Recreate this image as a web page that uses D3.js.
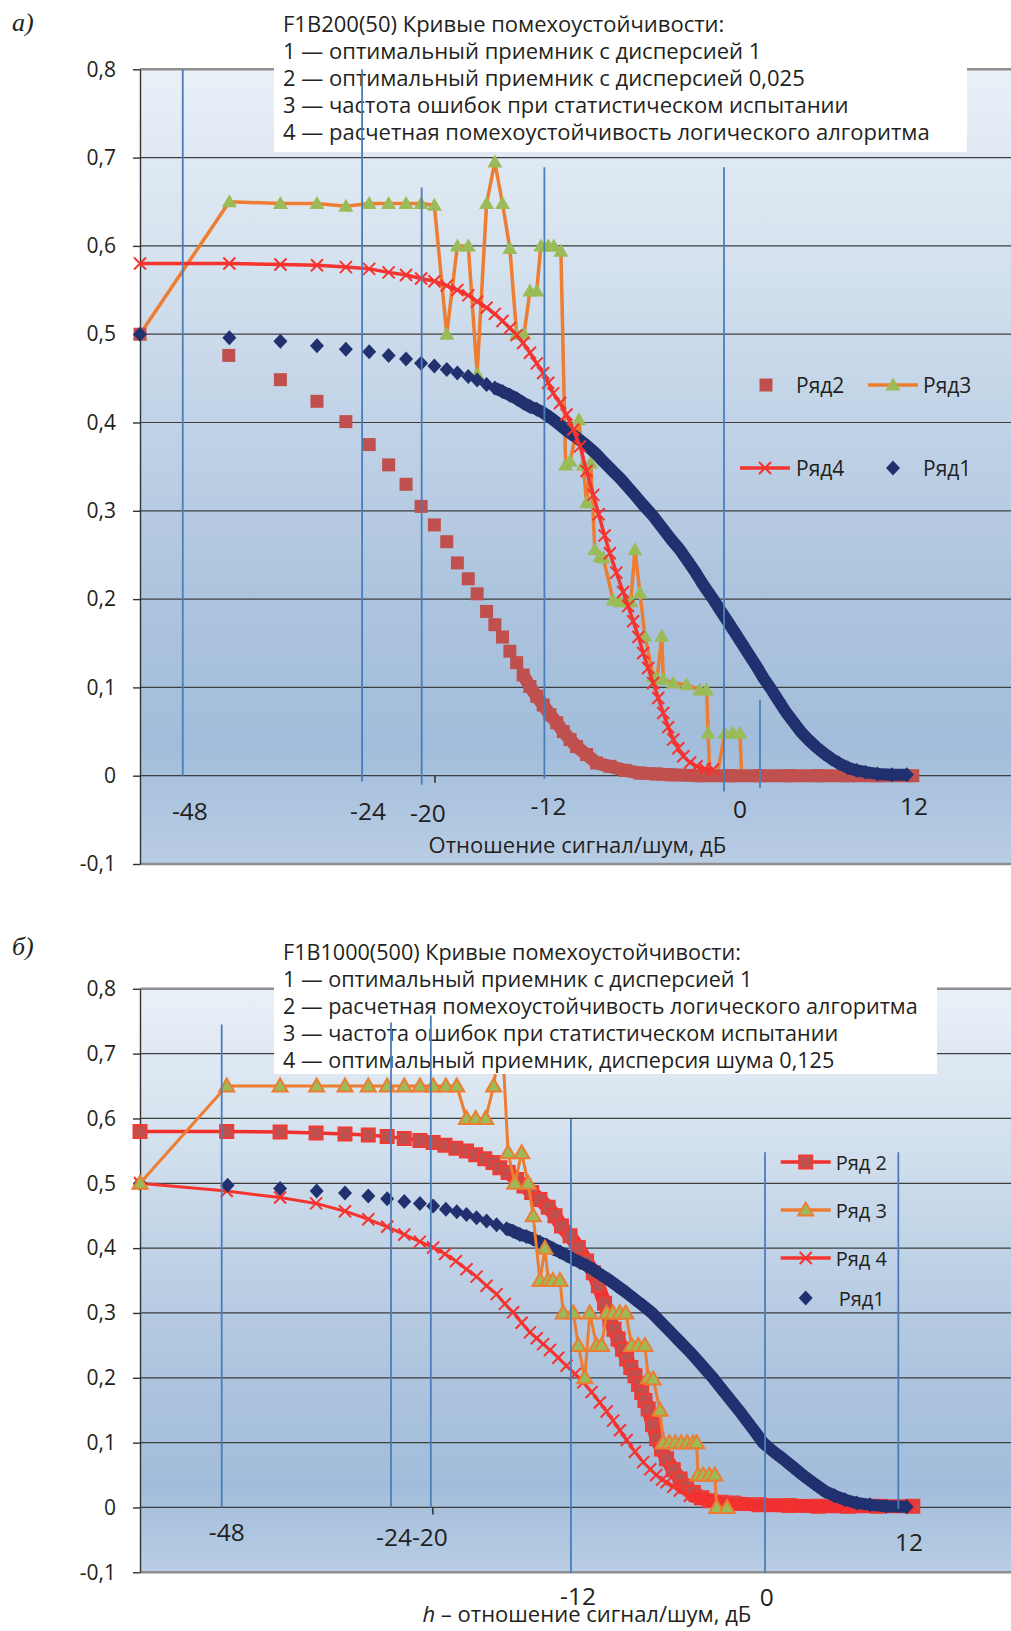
<!DOCTYPE html>
<html>
<head>
<meta charset="utf-8">
<script src="https://cdn.jsdelivr.net/npm/d3@7"></script>
<style>
body { margin: 0; background: #fff; }
svg { display: block; font-family: "Open Sans", sans-serif; }
</style>
</head>
<body>
<svg id="chart" width="1011" height="1631"></svg>
<script>
/* x: relative signal/noise position in dB (first sample = 0), y: error probability */
let y_ticks = [0.8, 0.7, 0.6, 0.5, 0.4, 0.3, 0.2, 0.1, 0, -0.1];

/* ---------- panel a) F1B200(50) ---------- */
let a_title = [
    "F1B200(50) Кривые помехоустойчивости:",
    "1 — оптимальный приемник с дисперсией 1",
    "2 — оптимальный приемник с дисперсией 0,025",
    "3 — частота ошибок при статистическом испытании",
    "4 — расчетная помехоустойчивость логического алгоритма"
];
let a_row1 = [[0,0.500],[3.03,0.496],[4.76,0.492],[6.00,0.487],[6.98,0.483],[7.77,0.480],[8.43,0.476],[9.02,0.472],[9.53,0.467],[9.98,0.464],[10.40,0.460],[10.76,0.456],[11.13,0.452],[11.43,0.448],[11.75,0.443],[12.03,0.439],[12.29,0.435],[12.54,0.431],[12.77,0.427],[13.00,0.422],[13.22,0.418],[13.45,0.415],[13.67,0.411],[13.90,0.406],[14.13,0.400],[14.35,0.394],[14.58,0.388],[14.80,0.383],[15.03,0.377],[15.25,0.371],[15.48,0.364],[15.70,0.356],[16.00,0.346],[16.30,0.336],[16.72,0.320],[17.05,0.307],[17.40,0.294],[17.70,0.281],[18.00,0.268],[18.30,0.256],[18.53,0.245],[18.80,0.232],[19.10,0.216],[19.43,0.200],[19.70,0.186],[19.90,0.176],[20.15,0.163],[20.40,0.150],[20.65,0.137],[20.90,0.124],[21.15,0.110],[21.40,0.098],[21.65,0.085],[21.90,0.072],[22.15,0.061],[22.40,0.050],[22.65,0.041],[22.94,0.032],[23.20,0.025],[23.45,0.019],[23.70,0.014],[24.00,0.009],[24.30,0.006],[24.60,0.004],[25.00,0.002],[25.50,0.001],[26.00,0.001]];
let a_row2 = [[0,0.500],[3.01,0.476],[4.76,0.4485],[6.00,0.424],[6.98,0.401],[7.77,0.375],[8.43,0.352],[9.02,0.330],[9.53,0.305],[9.98,0.284],[10.40,0.265],[10.76,0.241],[11.13,0.223],[11.43,0.206],[11.75,0.186],[12.03,0.171],[12.29,0.157],[12.54,0.141],[12.77,0.128],[12.99,0.114],[13.22,0.101],[13.45,0.090],[13.67,0.080],[13.90,0.069],[14.13,0.060],[14.35,0.050],[14.58,0.041],[14.80,0.033],[15.14,0.024],[15.48,0.0144],[15.93,0.0106],[16.45,0.006],[16.95,0.003],[17.5,0.002],[18.0,0.001],[19.0,0],[20.0,0],[21.0,0],[22.0,0],[23.0,0],[24.0,0],[25.0,0],[26.2,0]];
let a_row3 = [[0,0.500],[3.03,0.650],[4.76,0.648],[6.00,0.648],[6.98,0.645],[7.77,0.648],[8.43,0.648],[9.02,0.648],[9.53,0.648],[9.98,0.646],[10.40,0.500],[10.76,0.600],[11.13,0.600],[11.43,0.455],[11.75,0.648],[12.03,0.695],[12.29,0.648],[12.54,0.597],[12.77,0.500],[13.02,0.500],[13.22,0.549],[13.45,0.549],[13.59,0.600],[13.84,0.600],[14.03,0.600],[14.27,0.594],[14.43,0.352],[14.58,0.356],[14.88,0.403],[15.03,0.352],[15.14,0.309],[15.28,0.354],[15.42,0.256],[15.59,0.248],[15.71,0.2465],[16.04,0.199],[16.27,0.197],[16.50,0.197],[16.64,0.197],[16.78,0.256],[16.95,0.207],[17.12,0.158],[17.40,0.1125],[17.53,0.110],[17.69,0.158],[17.74,0.109],[18.08,0.105],[18.53,0.103],[18.98,0.097],[19.21,0.097],[19.26,0.048],[19.32,0],[19.56,0],[19.83,0.048],[20.10,0.048],[20.34,0.048],[20.40,0]];
let a_row4 = [[0,0.580],[3.03,0.580],[4.76,0.579],[6.00,0.578],[6.98,0.576],[7.77,0.574],[8.43,0.570],[9.02,0.567],[9.53,0.563],[9.98,0.560],[10.40,0.555],[10.76,0.550],[11.13,0.544],[11.43,0.537],[11.75,0.530],[12.03,0.523],[12.29,0.515],[12.54,0.507],[12.77,0.499],[12.99,0.490],[13.22,0.479],[13.45,0.467],[13.67,0.456],[13.84,0.445],[14.01,0.433],[14.24,0.422],[14.46,0.409],[14.69,0.392],[14.92,0.373],[15.14,0.345],[15.37,0.318],[15.55,0.296],[15.75,0.272],[15.93,0.252],[16.15,0.230],[16.38,0.208],[16.55,0.192],[16.72,0.175],[16.90,0.157],[17.06,0.139],[17.23,0.122],[17.40,0.105],[17.57,0.088],[17.74,0.071],[17.91,0.055],[18.08,0.041],[18.25,0.031],[18.42,0.022],[18.65,0.015],[18.87,0.0106],[19.15,0.008],[19.43,0.007]];
let a_xlabels = [["-48",1.69,-0.050],["-24",7.73,-0.050],["-20",9.76,-0.053],["-12",13.85,-0.044],["0",20.34,-0.048],["12",26.24,-0.044]];
let a_vlines = [[1.45,0.8,0],[7.53,0.8,-0.0065],[9.55,0.666,-0.0102],[13.71,0.689,-0.0034],[19.80,0.689,-0.018],[21.02,0.086,-0.0136]];

/* ---------- panel б) F1B1000(500) ---------- */
let b_title = [
    "F1B1000(500) Кривые помехоустойчивости:",
    "1 — оптимальный приемник с дисперсией 1",
    "2 — расчетная помехоустойчивость логического алгоритма",
    "3 — частота ошибок при статистическом испытании",
    "4 — оптимальный приемник, дисперсия шума 0,125"
];
let b_row1 = [[0,0.500],[2.97,0.497],[4.75,0.492],[5.99,0.488],[6.95,0.485],[7.74,0.4805],[8.38,0.476],[8.96,0.472],[9.49,0.469],[9.94,0.465],[10.37,0.460],[10.74,0.456],[11.07,0.452],[11.41,0.447],[11.75,0.442],[12.09,0.436],[12.43,0.430],[12.65,0.426],[12.88,0.421],[13.10,0.418],[13.33,0.414],[13.56,0.409],[13.79,0.4045],[14.01,0.399],[14.24,0.394],[14.46,0.389],[14.69,0.383],[14.92,0.378],[15.14,0.373],[15.37,0.367],[15.59,0.360],[15.90,0.351],[16.20,0.341],[16.50,0.331],[16.78,0.321],[17.06,0.311],[17.36,0.300],[17.70,0.284],[18.00,0.270],[18.30,0.256],[18.60,0.242],[18.90,0.227],[19.15,0.214],[19.42,0.200],[19.70,0.184],[20.00,0.167],[20.30,0.150],[20.60,0.132],[20.85,0.117],[21.12,0.100],[21.45,0.087],[21.80,0.075],[22.15,0.062],[22.47,0.050],[22.85,0.037],[23.22,0.025],[23.55,0.018],[23.90,0.012],[24.30,0.007],[24.75,0.004],[25.30,0.002],[25.99,0.001]];
let b_row2 = [[0,0.580],[2.94,0.580],[4.75,0.579],[5.97,0.5775],[6.95,0.576],[7.74,0.5745],[8.38,0.572],[8.96,0.569],[9.49,0.566],[9.94,0.563],[10.34,0.5585],[10.71,0.554],[11.07,0.550],[11.38,0.544],[11.69,0.538],[11.97,0.532],[12.20,0.524],[12.48,0.5165],[12.77,0.506],[13.02,0.496],[13.28,0.486],[13.56,0.475],[13.84,0.463],[14.07,0.450],[14.29,0.434],[14.58,0.419],[14.86,0.401],[15.14,0.380],[15.37,0.362],[15.54,0.342],[15.75,0.315],[15.93,0.290],[16.07,0.275],[16.21,0.260],[16.36,0.244],[16.50,0.229],[16.64,0.216],[16.78,0.203],[16.90,0.190],[17.01,0.1775],[17.12,0.165],[17.23,0.152],[17.38,0.128],[17.52,0.106],[17.68,0.090],[17.85,0.075],[18.08,0.058],[18.31,0.044],[18.53,0.032],[18.76,0.023],[19.05,0.015],[19.32,0.0105],[19.70,0.008],[20.11,0.007],[21,0.004],[22,0.003],[23,0.002],[24,0.002],[25,0.002],[26.2,0.002]];
let b_row3 = [[0,0.50],[2.94,0.65],[4.75,0.65],[5.99,0.65],[6.95,0.65],[7.74,0.65],[8.38,0.65],[8.96,0.65],[9.49,0.65],[9.94,0.65],[10.37,0.65],[10.74,0.65],[11.07,0.60],[11.38,0.60],[11.72,0.60],[11.99,0.65],[12.26,0.74],[12.48,0.547],[12.71,0.50],[12.94,0.547],[13.16,0.50],[13.33,0.45],[13.56,0.35],[13.73,0.40],[13.84,0.35],[14.00,0.35],[14.24,0.35],[14.35,0.30],[14.69,0.30],[14.86,0.25],[15.08,0.20],[15.25,0.30],[15.48,0.25],[15.65,0.25],[15.82,0.30],[16.04,0.30],[16.27,0.30],[16.47,0.30],[16.67,0.25],[16.89,0.25],[17.12,0.25],[17.23,0.20],[17.40,0.198],[17.63,0.15],[17.74,0.10],[17.95,0.10],[18.15,0.10],[18.35,0.10],[18.55,0.10],[18.75,0.10],[18.87,0.10],[18.92,0.05],[19.10,0.05],[19.30,0.05],[19.49,0.05],[19.55,0],[19.90,0]];
let b_row4 = [[0,0.500],[2.94,0.488],[4.75,0.478],[5.97,0.469],[6.95,0.457],[7.74,0.4445],[8.38,0.433],[8.96,0.421],[9.49,0.410],[9.94,0.401],[10.34,0.391],[10.71,0.380],[11.07,0.3675],[11.41,0.356],[11.75,0.342],[12.09,0.329],[12.37,0.314],[12.65,0.301],[12.94,0.285],[13.22,0.270],[13.45,0.261],[13.67,0.252],[13.90,0.243],[14.18,0.231],[14.46,0.2185],[14.75,0.206],[15.03,0.193],[15.31,0.178],[15.59,0.162],[15.82,0.148],[16.04,0.134],[16.27,0.119],[16.50,0.104],[16.78,0.086],[17.06,0.070],[17.30,0.059],[17.50,0.050],[17.70,0.043],[17.85,0.039],[18.08,0.032],[18.30,0.026],[18.64,0.018],[19.00,0.013],[19.32,0.0105],[19.80,0.006],[20.34,0.004],[22,0.002],[24,0.001],[26.2,0.001]];
let b_xlabels = [["-48",2.94,-0.052],["-24-20",9.22,-0.059],["12",26.07,-0.067],["-12",14.85,-0.150],["0",21.25,-0.152]];
let b_vlines = [[2.77,0.745,0],[8.51,0.748,0],[9.86,0.759,0],[14.61,0.599,-0.101],[21.19,0.548,-0.101],[25.71,0.548,-0.002]];

let svg = d3.select("#chart");

let shapes = {
    square: "M-6.5,-6.5H6.5V6.5H-6.5Z",
    diamond: "M0,-7.5L7,0L0,7.5L-7,0Z",
    triangle: "M0,-7.5L7.5,5.5H-7.5Z",
    cross: "M-6,-6L6,6M-6,6L6,-6"
};

/* plot area gradient (Excel-like) */
let grad = svg.append("defs").append("linearGradient").attr("id", "bg")
    .attr("x1", 0).attr("y1", 0).attr("x2", 0).attr("y2", 1);
[[0, "#e9f0f8"], [0.22, "#d7e3ef"], [0.44, "#c1d3e7"], [0.66, "#adc4de"], [0.85, "#a2bddb"], [1, "#b9cde4"]]
    .forEach(function (s) { grad.append("stop").attr("offset", s[0]).attr("stop-color", s[1]); });

function fmt(d) {
    return d === 0 ? "0" : d.toFixed(1).replace(".", ",");
}

function draw_series(g, x, y, s) {
    let line = d3.line().x(d => x(d[0])).y(d => y(d[1]));
    if (s.line) {
        g.append("path").datum(s.data).attr("d", line)
            .attr("fill", "none").attr("stroke", s.line).attr("stroke-width", s.lw)
            .attr("stroke-linejoin", "round");
    }
    if (s.band) { // dense markers merge into a solid band
        g.append("path").datum(s.data.filter(d => d[0] >= s.band[0])).attr("d", line)
            .attr("fill", "none").attr("stroke", s.band[1]).attr("stroke-width", s.band[2])
            .attr("stroke-linejoin", "round");
    }
    g.selectAll(null).data(s.data).enter().append("path")
        .attr("transform", d => "translate(" + x(d[0]) + "," + y(d[1]) + ")")
        .attr("d", shapes[s.shape])
        .attr("fill", s.fill || "none")
        .attr("stroke", s.stroke || "none")
        .attr("stroke-width", s.sw || 0);
}

function draw_panel(p) {
    let g = svg.append("g");
    let x = d3.scaleLinear().domain([0, 29.53]).range([140, 1011]);
    let y = d3.scaleLinear().domain([-0.1, 0.8]).range([p.bottom, p.top]);

    g.append("rect").attr("x", 140).attr("y", y(0.8))
        .attr("width", 871).attr("height", y(-0.1) - y(0.8)).attr("fill", "url(#bg)");

    g.selectAll(null).data(y_ticks).enter().append("line")
        .attr("x1", 140).attr("x2", 1011)
        .attr("y1", d => y(d)).attr("y2", d => y(d))
        .attr("stroke", d => (d === 0.8 || d === -0.1) ? "#8e8e8e" : "#3e3e3e")
        .attr("stroke-width", d => (d === 0.8 || d === -0.1) ? 2.6 : 1.2);

    let axis = g.append("g").attr("transform", "translate(140,0)")
        .call(d3.axisLeft(y).tickValues(y_ticks).tickSize(7).tickSizeOuter(0).tickPadding(17).tickFormat(fmt));
    axis.select(".domain").attr("stroke", "#333").attr("stroke-width", 1.4);
    axis.selectAll(".tick line").attr("stroke", "#333").attr("stroke-width", 1.4);
    axis.selectAll("text").attr("font-family", "Open Sans").attr("font-size", 21).attr("fill", "#231f20");

    // lone category tick below the zero line
    g.append("line").attr("x1", x(p.tick)).attr("x2", x(p.tick))
        .attr("y1", y(0)).attr("y2", y(0) + 7).attr("stroke", "#222").attr("stroke-width", 1.4);

    p.series.forEach(s => draw_series(g, x, y, s));

    // title box
    g.append("rect").attr("x", p.box[0]).attr("y", p.box[1])
        .attr("width", p.box[2] - p.box[0]).attr("height", p.box[3] - p.box[1]).attr("fill", "#fff");
    g.selectAll(null).data(p.title).enter().append("text")
        .attr("x", 283).attr("y", (d, i) => p.titleY + i * 27)
        .attr("font-size", p.titleSize).attr("fill", "#231f20").text(d => d);

    g.selectAll(null).data(p.vlines).enter().append("line")
        .attr("x1", d => x(d[0])).attr("x2", d => x(d[0]))
        .attr("y1", d => y(d[1])).attr("y2", d => y(d[2]))
        .attr("stroke", "#4a7ebb").attr("stroke-width", 1.8);

    g.selectAll(null).data(p.xlabels).enter().append("text")
        .attr("x", d => x(d[1])).attr("y", d => y(d[2]))
        .attr("text-anchor", "middle").attr("font-size", 24.5).attr("fill", "#231f20")
        .text(d => d[0]);

    let t = g.append("text").attr("x", x(p.axisTitle[0])).attr("y", y(p.axisTitle[1]))
        .attr("text-anchor", "middle").attr("font-size", 22).attr("fill", "#231f20");
    if (p.italicH) {
        t.append("tspan").attr("font-style", "italic").text("h");
        t.append("tspan").text(" – отношение сигнал/шум, дБ");
    } else {
        t.text("Отношение сигнал/шум, дБ");
    }

    svg.append("text").attr("x", 12).attr("y", p.letterY)
        .attr("font-family", "Liberation Serif").attr("font-style", "italic")
        .attr("font-size", 26).attr("fill", "#231f20").text(p.letter);

    // legend
    p.legend.forEach(function (l) {
        let lg = g.append("g").attr("transform", "translate(" + l.x + "," + l.y + ")");
        if (l.s.line) {
            lg.append("line").attr("x1", -25).attr("x2", 25).attr("stroke", l.s.line).attr("stroke-width", 3.5);
        }
        lg.append("path").attr("d", shapes[l.s.shape])
            .attr("fill", l.s.fill || "none").attr("stroke", l.s.stroke || "none").attr("stroke-width", l.s.sw || 0);
        lg.append("text").attr("x", l.tx).attr("y", 8).attr("font-size", p.legendSize)
            .attr("fill", "#231f20").text(l.name);
    });
}

let navy = "#21306e";

let a_s1 = {data: a_row1, shape: "diamond", fill: navy, band: [12.0, navy, 12]};
let a_s2 = {data: a_row2, shape: "square", fill: "#c0504d", band: [12.9, "#c0504d", 13]};
let a_s3 = {data: a_row3, line: "#ed7d31", lw: 3.5, shape: "triangle", fill: "#9bbb59"};
let a_s4 = {data: a_row4, line: "#f5332f", lw: 3.5, shape: "cross", stroke: "#f5332f", sw: 2};

draw_panel({
    top: 69.3, bottom: 864, tick: 10.0,
    series: [a_s3, a_s2, a_s1, a_s4],
    box: [274, 6, 967, 152], title: a_title, titleY: 32, titleSize: 22,
    vlines: a_vlines, xlabels: a_xlabels, axisTitle: [14.83, -0.087], italicH: false,
    letter: "а)", letterY: 31, legendSize: 21,
    legend: [
        {name: "Ряд2", s: a_s2, x: 766, y: 385, tx: 30},
        {name: "Ряд3", s: a_s3, x: 893, y: 385, tx: 30},
        {name: "Ряд4", s: a_s4, x: 765, y: 468, tx: 31},
        {name: "Ряд1", s: a_s1, x: 893, y: 468, tx: 30}
    ]
});

let b_s1 = {data: b_row1, shape: "diamond", fill: navy, band: [12.4, navy, 12]};
let b_s2 = {data: b_row2, line: "#f0302c", lw: 3.5, shape: "square", fill: "#c0504d", stroke: "#f23a35", sw: 2, band: [12.3, "#ee3333", 14]};
let b_s3 = {data: b_row3, line: "#ed7d31", lw: 3, shape: "triangle", fill: "#9bbb59", stroke: "#ed7d31", sw: 2};
let b_s4 = {data: b_row4, line: "#f5332f", lw: 3, shape: "cross", stroke: "#f5332f", sw: 2, band: [18.6, "#f03030", 12]};

draw_panel({
    top: 988.8, bottom: 1572.3, tick: 9.93,
    series: [b_s2, b_s4, b_s1, b_s3],
    box: [274, 936, 937, 1074], title: b_title, titleY: 960, titleSize: 21.6,
    vlines: b_vlines, xlabels: b_xlabels, axisTitle: [15.15, -0.176], italicH: true,
    letter: "б)", letterY: 955, legendSize: 20,
    legend: [
        {name: "Ряд 2", s: b_s2, x: 805.7, y: 1162, tx: 30},
        {name: "Ряд 3", s: b_s3, x: 805.7, y: 1210, tx: 30},
        {name: "Ряд 4", s: b_s4, x: 805.7, y: 1258, tx: 30},
        {name: "Ряд1", s: b_s1, x: 805.7, y: 1298, tx: 33}
    ]
});
</script>
</body>
</html>
